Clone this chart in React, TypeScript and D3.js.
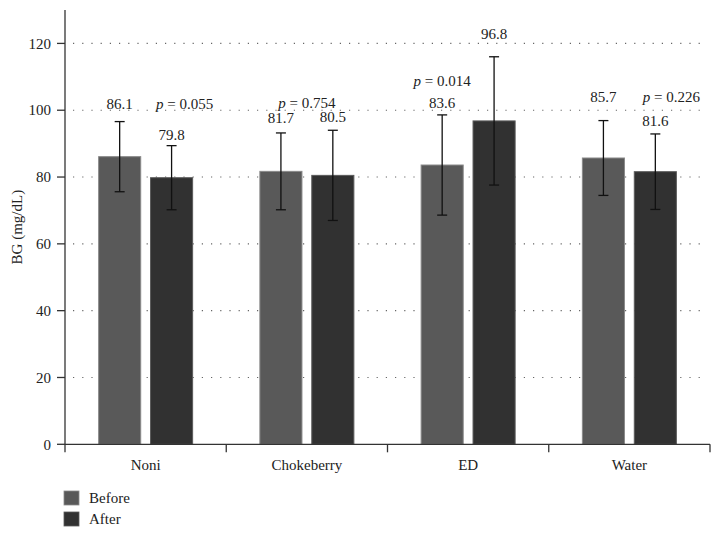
import React from "react";
import * as d3 from "d3";

const categories = ["Noni", "Chokeberry", "ED", "Water"];
const seriesNames = ["Before", "After"];
const beforeValues = [86.1, 81.7, 83.6, 85.7];
const afterValues = [79.8, 80.5, 96.8, 81.6];
const beforeErrors = [10.5, 11.5, 15.0, 11.2];
const afterErrors = [9.6, 13.5, 19.2, 11.3];
const pValues = ["0.055", "0.754", "0.014", "0.226"];
const yTicks = [0, 20, 40, 60, 80, 100, 120];

// layout: pixel offsets of value labels above error-bar tops [before, after]
const labelOffsets = [[13, 6], [10, 8], [7, 18], [19, 8]];
// p-value label anchor: which bar (0 before, 1 after, 0.5 group centre), extra dx, y above value label line
const pAnchor = [
  { at: 1, dx: 13, baseOf: 0, dy: 0 },
  { at: 0.5, dx: 0, baseOf: 0, dy: 15 },
  { at: 0, dx: 0, baseOf: 0, dy: 22 },
  { at: 1, dx: 16, baseOf: 0, dy: 0 },
];

const W = 721, H = 537;
const left = 65, right = 710, top = 10, bottom = 444.3;
const colors = ["#595959", "#313131"];
const strokes = ["#8a8a8a", "#5a5a5a"];
const FONT = "'Liberation Serif', 'DejaVu Serif', serif";

export default function App() {
  const y = d3.scaleLinear().domain([0, 130]).range([bottom, top]);
  const x0 = d3.scaleBand().domain(categories).range([left, right]).paddingInner(0).paddingOuter(0);
  const groupW = 95;
  const x1 = d3.scaleBand().domain(seriesNames).range([0, groupW]).paddingInner(0.17);
  const bw = x1.bandwidth();

  const data = categories.map((c, i) => ({
    c,
    vals: [beforeValues[i], afterValues[i]],
    errs: [beforeErrors[i], afterErrors[i]],
  }));

  const gx = (c: string) => (x0(c) as number) + (x0.bandwidth() - groupW) / 2;
  const gridDash = "1.2,8";

  return (
    <svg width={W} height={H} style={{ position: "absolute", left: 0, top: 0, background: "#fff" }}
      fontFamily={FONT}>
      {/* gridlines */}
      {yTicks.filter(t => t > 0).map(t => (
        <line key={t} x1={73} x2={702} y1={y(t)} y2={y(t)} stroke="#666" strokeWidth={1.1}
          strokeDasharray={gridDash} />
      ))}
      {/* bars */}
      {data.map((d, i) => (
        <g key={d.c} transform={`translate(${gx(d.c)},0)`}>
          {d.vals.map((v, k) => {
            const bx = x1(seriesNames[k]) as number;
            return (
              <rect key={k} x={bx + 0.5} y={y(v)} width={bw - 1} height={bottom - y(v)}
                fill={colors[k]} stroke={strokes[k]} strokeWidth={1} />
            );
          })}
          {d.vals.map((v, k) => {
            const cx = (x1(seriesNames[k]) as number) + bw / 2;
            const e = d.errs[k];
            return (
              <g key={"e" + k} stroke="#111" strokeWidth={1.3}>
                <line x1={cx} x2={cx} y1={y(v + e)} y2={y(v - e)} />
                <line x1={cx - 5} x2={cx + 5} y1={y(v + e)} y2={y(v + e)} />
                <line x1={cx - 5} x2={cx + 5} y1={y(v - e)} y2={y(v - e)} />
              </g>
            );
          })}
          {d.vals.map((v, k) => {
            const cx = (x1(seriesNames[k]) as number) + bw / 2;
            return (
              <text key={"l" + k} x={cx} y={y(v + d.errs[k]) - labelOffsets[i][k]} textAnchor="middle"
                fontSize={15} fill="#222">{v.toFixed(1)}</text>
            );
          })}
          {(() => {
            const a = pAnchor[i];
            const cx = a.at === 0.5 ? groupW / 2 : (x1(seriesNames[a.at]) as number) + bw / 2;
            const k = a.baseOf;
            const base = y(d.vals[k] + d.errs[k]) - labelOffsets[i][k];
            return (
              <text x={cx + a.dx} y={base - a.dy} textAnchor="middle" fontSize={15} fill="#222">
                <tspan fontStyle="italic">p</tspan> = {pValues[i]}
              </text>
            );
          })()}
        </g>
      ))}
      {/* y axis */}
      <line x1={left} x2={left} y1={top} y2={bottom} stroke="#333" strokeWidth={1.3} />
      {yTicks.map(t => (
        <g key={t}>
          <line x1={57} x2={left} y1={y(t)} y2={y(t)} stroke="#333" strokeWidth={1.3} />
          <text x={51} y={y(t)} dy="0.35em" textAnchor="end" fontSize={15} fill="#222">{t}</text>
        </g>
      ))}
      <text transform={`translate(22,${(top + bottom) / 2}) rotate(-90)`} textAnchor="middle" fontSize={15}
        fill="#222">BG (mg/dL)</text>
      {/* x axis */}
      <line x1={left} x2={right} y1={bottom} y2={bottom} stroke="#333" strokeWidth={1.3} />
      {[...categories.map(c => x0(c) as number), right].map((t, i) => (
        <line key={i} x1={t} x2={t} y1={bottom} y2={bottom + 8} stroke="#333" strokeWidth={1.3} />
      ))}
      {categories.map(c => (
        <text key={c} x={(x0(c) as number) + x0.bandwidth() / 2} y={470} textAnchor="middle" fontSize={15}
          fill="#222">{c}</text>
      ))}
      {/* legend */}
      {seriesNames.map((s, k) => (
        <g key={s} transform={`translate(64,${491 + k * 21})`}>
          <rect x={0} y={0} width={15} height={14} fill={colors[k]} stroke={strokes[k]} strokeWidth={0.8} />
          <text x={25} y={12} fontSize={15} fill="#222">{s}</text>
        </g>
      ))}
    </svg>
  );
}
